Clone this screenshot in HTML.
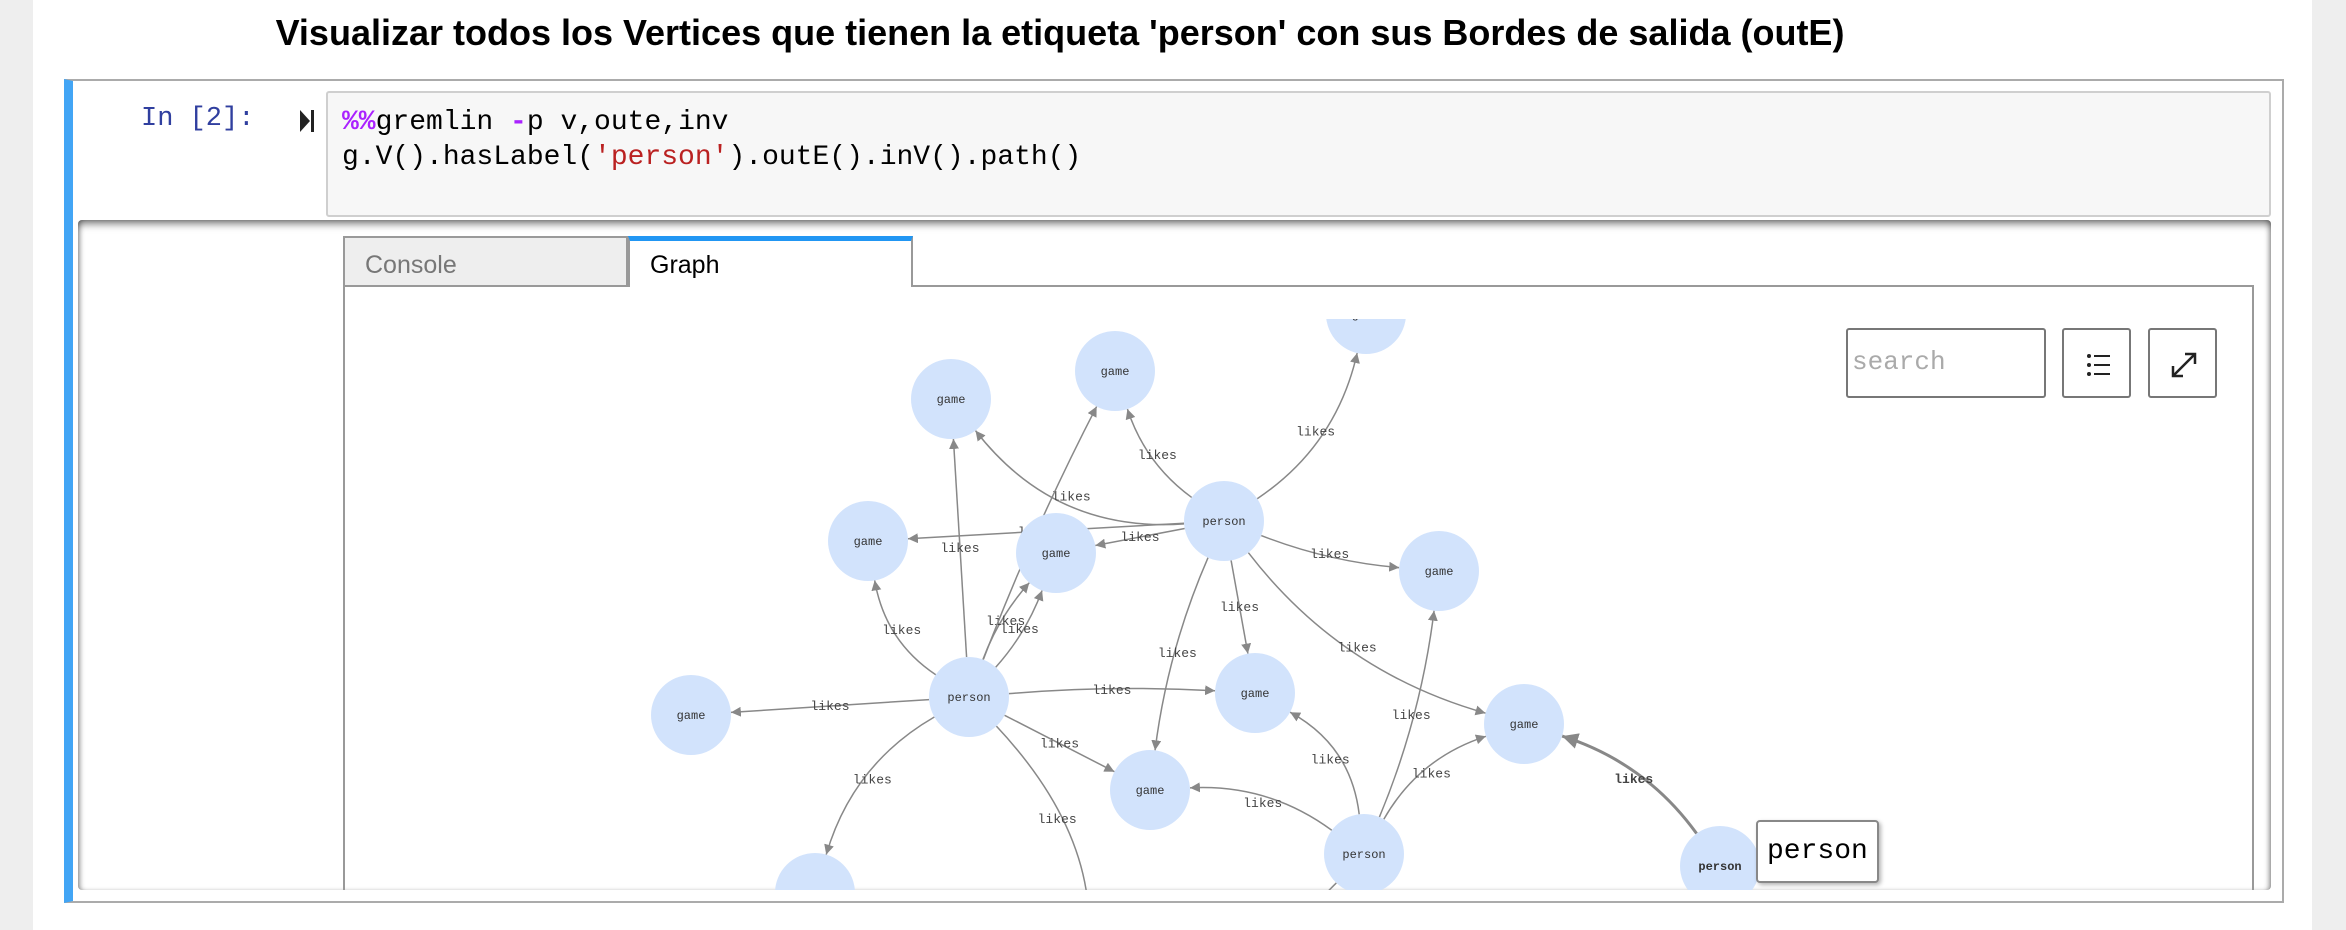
<!DOCTYPE html>
<html><head><meta charset="utf-8"><style>
body{margin:0;width:2346px;height:930px;background:#eee;position:relative;overflow:hidden;font-family:"Liberation Sans",sans-serif}
.abs{position:absolute}
#page{left:33px;top:0;width:2279px;height:930px;background:#fff}
#title{left:0;width:2120px;top:12px;text-align:center;font-weight:bold;font-size:36px;color:#000}
#cell{left:64px;top:79px;width:2220px;height:824px;border:2px solid #ababab;box-sizing:border-box;border-left:9px solid #42a5f5}
#prompt{left:141px;top:104px;font-family:"Liberation Mono",monospace;font-size:27px;color:#303f9f}
#code{left:326px;top:91px;width:1945px;height:126px;background:#f7f7f7;border:2px solid #cfcfcf;box-sizing:border-box;border-radius:3px;font-family:"Liberation Mono",monospace;font-size:28px;line-height:35px;padding:12px 0 0 14px;color:#000;white-space:pre}
#out{left:78px;top:220px;width:2193px;height:670px;box-shadow:inset 0 6px 8px -2px rgba(0,0,0,.5),inset 4px 0 6px -3px rgba(0,0,0,.4),inset -4px 0 6px -3px rgba(0,0,0,.4);border-radius:4px}
.tab{top:236px;height:51px;width:285px;box-sizing:border-box;font-size:25px;padding:13px 0 0 20px}
#panel{left:343px;top:287px;width:1911px;height:603px;border:2px solid #999;border-top:none;border-bottom:none;box-sizing:border-box}
.btn{border:2px solid #777;border-radius:3px;box-sizing:border-box;background:#fff}
</style></head><body>
<div id="page" class="abs"></div>
<div id="title" class="abs">Visualizar todos los Vertices que tienen la etiqueta 'person' con sus Bordes de salida (outE)</div>
<div id="cell" class="abs"></div>
<div id="prompt" class="abs">In [2]:</div>
<svg class="abs" style="left:298px;top:108px" width="18" height="26"><polygon points="2,2 12,13 2,24" fill="#222"/><rect x="13" y="2" width="3" height="22" fill="#222"/></svg>
<div id="code" class="abs"><span style="color:#aa22ff;font-weight:bold">%%</span>gremlin <span style="color:#aa22ff;font-weight:bold">-</span>p v,oute,inv
g.V().hasLabel(<span style="color:#ba2121">'person'</span>).outE().inV().path()</div>
<div id="out" class="abs"></div>
<div class="abs tab" style="left:343px;background:#eee;border:2px solid #999;color:#777">Console</div>
<div class="abs tab" style="left:628px;background:#fff;border:2px solid #999;border-top:5px solid #2196f3;border-bottom:none;color:#000;padding-top:10px">Graph</div>
<div class="abs" style="left:912px;top:285px;width:1342px;border-top:2px solid #999"></div>
<div id="panel" class="abs"></div>
<svg class="abs" id="g" style="left:0;top:0" width="2346" height="930"></svg>
<div class="abs btn" style="left:1846px;top:328px;width:200px;height:70px;font-family:'Liberation Mono',monospace;font-size:26px;color:#aaa;padding:17px 0 0 4px">search</div>
<svg class="abs btn" style="left:2062px;top:328px" width="69" height="70"><g fill="#222"><circle cx="25" cy="26" r="2"/><circle cx="25" cy="35" r="2"/><circle cx="25" cy="44" r="2"/><rect x="30" y="25" width="16" height="2"/><rect x="30" y="34" width="16" height="2"/><rect x="30" y="43" width="16" height="2"/></g></svg>
<svg class="abs btn" style="left:2148px;top:328px" width="69" height="70"><g stroke="#222" stroke-width="2.5" fill="none"><line x1="24" y1="45" x2="44" y2="25"/><polyline points="35,24 45,24 45,34"/><polyline points="23,36 23,46 33,46"/></g></svg>
<div class="abs" style="left:1756px;top:820px;width:123px;height:63px;border:2px solid #888;border-radius:4px;background:#fff;box-sizing:border-box;font-family:'Liberation Mono',monospace;font-size:28px;padding:14px 0 0 9px;box-shadow:2px 2px 4px rgba(0,0,0,.3)">person</div>
<script>
const nodeX=[951,1115,1366,868,1056,1224,1439,691,969,1255,1524,1150,1364,1720,815,1110,1290];
const nodeY=[399,371,314,541,553,521,571,715,697,693,724,790,854,866,893,960,960];
const nodeLabels=['game','game','game','game','game','person','game','game','person','game','game','game','person','person','game','game','game'];
const edgeFrom=[5,5,5,5,5,5,5,5,5,8,8,8,8,8,8,8,8,8,12,12,12,12,13,8,12];
const edgeTo=[0,1,2,3,4,6,9,10,11,0,3,4,4,1,7,9,11,14,11,9,6,10,10,15,16];
const edgeBend=[-40,-15,25,0,0,8,0,30,10,0,-20,-8,8,-5,0,-5,0,25,20,25,10,-20,20,-20,5];
const R=40,ns='http://www.w3.org/2000/svg',svg=document.getElementById('g');
svg.innerHTML='<defs><marker id="ar" viewBox="0 0 10 10" refX="10" refY="5" markerWidth="10" markerHeight="10" orient="auto" markerUnits="userSpaceOnUse"><path d="M0,0L10,5L0,10z" fill="#888"/></marker><marker id="ar2" viewBox="0 0 10 10" refX="10" refY="5" markerWidth="16" markerHeight="16" orient="auto" markerUnits="userSpaceOnUse"><path d="M0,0L10,5L0,10z" fill="#888"/></marker><clipPath id="cp"><rect x="345" y="319" width="1907" height="571"/></clipPath></defs>';
const G=document.createElementNS(ns,'g');G.setAttribute('clip-path','url(#cp)');svg.appendChild(G);
function mk(t,a){const e=document.createElementNS(ns,t);for(const k in a)e.setAttribute(k,a[k]);G.appendChild(e);return e;}
edgeFrom.forEach((f,i)=>{
 const t=edgeTo[i],x1=nodeX[f],y1=nodeY[f],x2=nodeX[t],y2=nodeY[t];
 const dx=x2-x1,dy=y2-y1,L=Math.hypot(dx,dy),ux=dx/L,uy=dy/L,b=edgeBend[i];
 const mx=(x1+x2)/2-uy*b,my=(y1+y2)/2+ux*b;
 const cx=2*mx-(x1+x2)/2,cy=2*my-(y1+y2)/2;
 let ex=x2-cx,ey=y2-cy,el=Math.hypot(ex,ey);
 const sx=x1+(cx-x1)/Math.hypot(cx-x1,cy-y1)*R,sy=y1+(cy-y1)/Math.hypot(cx-x1,cy-y1)*R;
 let tx=x2-ex/el*R,ty=y2-ey/el*R;
 const off=ty>900;
 if(off){const s=(895-sy)/(ty-sy);tx=sx+(tx-sx)*s;ty=895;}
 const bold=f===13;
 const attrs={d:`M${sx},${sy}Q${cx},${Math.min(cy,900)} ${tx},${ty}`,fill:'none',stroke:'#888','stroke-width':bold?3:1.5};
 if(!off) attrs['marker-end']=bold?'url(#ar2)':'url(#ar)';
 const p=mk('path',attrs);
 
 
 const l=mk('text',{x:mx,y:my+4,'text-anchor':'middle','font-family':'Liberation Mono,monospace','font-size':13,fill:'#444','font-weight':bold?'bold':'normal'});
 l.textContent='likes';
 
 
});
nodeX.forEach((x,i)=>{
 if(nodeY[i]>900) return;
 const c=mk('circle',{cx:x,cy:nodeY[i],r:R,fill:'#d2e3fc'});
 
 
 const t=mk('text',{x:x,y:nodeY[i]+4,'text-anchor':'middle','font-family':'Liberation Mono,monospace','font-size':12,fill:'#333','font-weight':i===13?'bold':'normal'});
 t.textContent=nodeLabels[i];
 
 
});
</script>
</body></html>
